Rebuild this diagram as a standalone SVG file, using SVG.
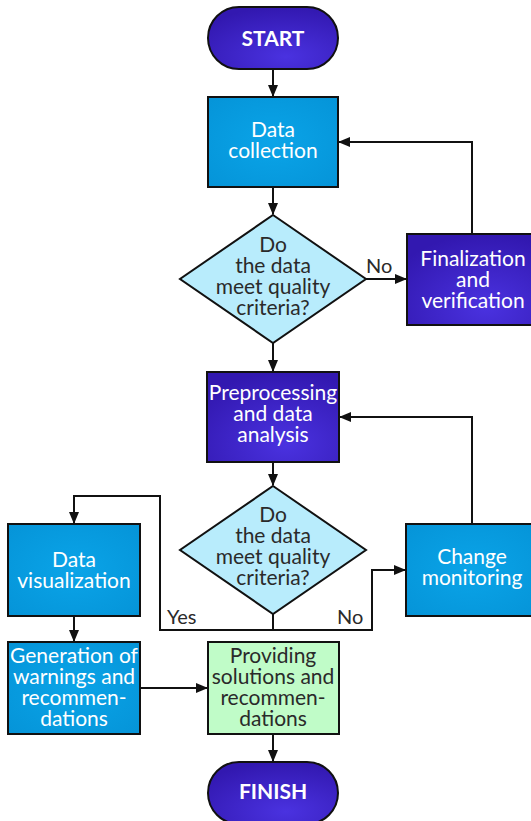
<svg xmlns="http://www.w3.org/2000/svg" width="531" height="821" viewBox="0 0 531 821">
<style>
text{font-family:Lato,"Open Sans","Liberation Sans",sans-serif;font-size:21px;text-anchor:middle}
.w{fill:#ffffff}
.d{fill:#2a2a2a}
.b{font-weight:bold;font-size:21px}
.lbl{fill:#2a2a2a;text-anchor:start;font-size:20px}
.sh{stroke:#111;stroke-width:2}
.ln{fill:none;stroke:#111;stroke-width:2}
</style>
<defs>
<radialGradient id="gb" cx="0.5" cy="0.5" r="0.7">
<stop offset="0" stop-color="#0aa4e8"/>
<stop offset="1" stop-color="#0594d8"/>
</radialGradient>
<radialGradient id="gp" cx="0.6" cy="0.8" r="0.8">
<stop offset="0" stop-color="#4a32e0"/>
<stop offset="1" stop-color="#3218b0"/>
</radialGradient>
<marker id="ar" markerWidth="12" markerHeight="10" refX="11" refY="5" orient="auto" markerUnits="userSpaceOnUse">
<path d="M0,0 L12,5 L0,10 Z" fill="#111"/>
</marker>
</defs>
<g id="connectors">
<path class="ln" d="M273,69 V96" marker-end="url(#ar)"/>
<path class="ln" d="M273,187 V214" marker-end="url(#ar)"/>
<path class="ln" d="M366,279 H406" marker-end="url(#ar)"/>
<path class="ln" d="M472,234 V142 H339" marker-end="url(#ar)"/>
<path class="ln" d="M273,343 V371" marker-end="url(#ar)"/>
<path class="ln" d="M273,462 V485" marker-end="url(#ar)"/>
<path class="ln" d="M472,524 V417 H340" marker-end="url(#ar)"/>
<path class="ln" d="M273,614 V630 H160 V496 H74 V523" marker-end="url(#ar)"/>
<path class="ln" d="M273,630 H372 V570 H405" marker-end="url(#ar)"/>
<path class="ln" d="M74,616 V641" marker-end="url(#ar)"/>
<path class="ln" d="M140,688 H207" marker-end="url(#ar)"/>
<path class="ln" d="M273,734 V761" marker-end="url(#ar)"/>
<text class="lbl" x="366" y="273">No</text>
<text class="lbl" x="167" y="624">Yes</text>
<text class="lbl" x="337" y="624">No</text>
</g>
<g id="start">
<rect class="sh" x="208" y="7" width="130" height="62" rx="31" fill="url(#gp)"/>
<text class="w b" x="273" y="46">START</text>
</g>
<g id="data-collection">
<rect class="sh" x="208" y="97" width="130" height="90" fill="url(#gb)"/>
<text class="w" x="273" y="137">Data</text>
<text class="w" x="273" y="158">collection</text>
</g>
<g id="decision1">
<polygon class="sh" points="273,215 366,279 273,343 180,279" fill="#b8ecfc"/>
<text class="d" x="273" y="252">Do</text>
<text class="d" x="273" y="273">the data</text>
<text class="d" x="273" y="294">meet quality</text>
<text class="d" x="273" y="315">criteria?</text>
</g>
<g id="finalization">
<rect class="sh" x="407" y="234" width="132" height="91" fill="url(#gp)"/>
<text class="w" x="473" y="266">Finalization</text>
<text class="w" x="473" y="287">and</text>
<text class="w" x="473" y="308">verification</text>
</g>
<g id="preprocessing">
<rect class="sh" x="207" y="372" width="132" height="90" fill="url(#gp)"/>
<text class="w" x="273" y="400">Preprocessing</text>
<text class="w" x="273" y="421">and data</text>
<text class="w" x="273" y="442">analysis</text>
</g>
<g id="decision2">
<polygon class="sh" points="273,486 366,550 273,614 180,550" fill="#b8ecfc"/>
<text class="d" x="273" y="522">Do</text>
<text class="d" x="273" y="543">the data</text>
<text class="d" x="273" y="564">meet quality</text>
<text class="d" x="273" y="585">criteria?</text>
</g>
<g id="data-visualization">
<rect class="sh" x="8" y="524" width="132" height="92" fill="url(#gb)"/>
<text class="w" x="74" y="567">Data</text>
<text class="w" x="74" y="588">visualization</text>
</g>
<g id="change-monitoring">
<rect class="sh" x="406" y="524" width="132" height="92" fill="url(#gb)"/>
<text class="w" x="472" y="564">Change</text>
<text class="w" x="472" y="585">monitoring</text>
</g>
<g id="generation">
<rect class="sh" x="8" y="642" width="132" height="92" fill="url(#gb)"/>
<text class="w" x="74" y="663">Generation of</text>
<text class="w" x="74" y="684">warnings and</text>
<text class="w" x="74" y="705">recommen-</text>
<text class="w" x="74" y="726">dations</text>
</g>
<g id="providing">
<rect class="sh" x="208" y="642" width="131" height="92" fill="#c0fcc8"/>
<text class="d" x="273" y="663">Providing</text>
<text class="d" x="273" y="684">solutions and</text>
<text class="d" x="273" y="705">recommen-</text>
<text class="d" x="273" y="726">dations</text>
</g>
<g id="finish">
<rect class="sh" x="208" y="762" width="130" height="62" rx="31" fill="url(#gp)"/>
<text class="w b" x="273" y="799">FINISH</text>
</g>
</svg>
